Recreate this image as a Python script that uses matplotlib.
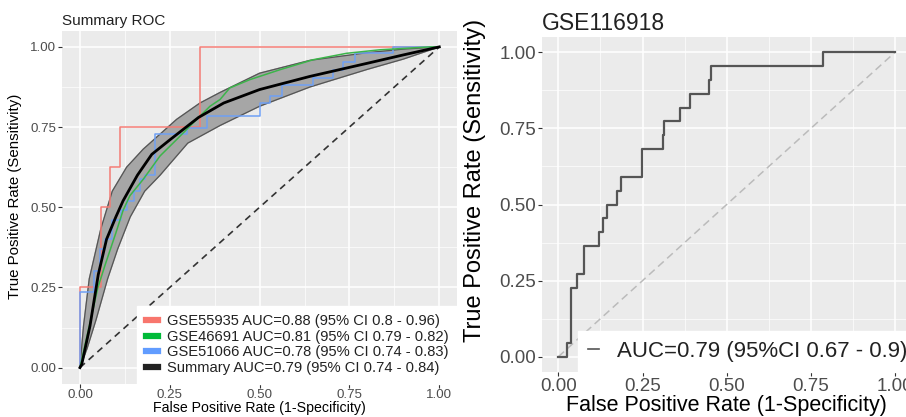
import numpy as np
import matplotlib
matplotlib.use("Agg")
import matplotlib.pyplot as plt
from matplotlib.lines import Line2D

plt.rcParams['font.family'] = ['Liberation Sans', 'DejaVu Sans']

# ---- left panel data ----
summary_fpr = [0, 0.005, 0.028, 0.051, 0.074, 0.10, 0.12, 0.16, 0.20, 0.25, 0.33, 0.40, 0.50, 0.64, 0.80, 0.90, 1.0]
summary_tpr = [0, 0.01, 0.13, 0.29, 0.40, 0.47, 0.52, 0.60, 0.665, 0.71, 0.78, 0.825, 0.867, 0.908, 0.949, 0.975, 1.0]

ci_up_fpr = [0, 0.01, 0.026, 0.058, 0.09, 0.13, 0.176, 0.269, 0.334, 0.39, 0.50, 0.64, 0.80, 0.90, 1.0]
ci_up_tpr = [0, 0.13, 0.277, 0.432, 0.55, 0.625, 0.681, 0.774, 0.825, 0.858, 0.918, 0.958, 0.982, 0.993, 1.0]
ci_lo_fpr = [0, 0.02, 0.045, 0.077, 0.105, 0.14, 0.18, 0.223, 0.30, 0.39, 0.50, 0.64, 0.80, 0.90, 1.0]
ci_lo_tpr = [0, 0.06, 0.15, 0.277, 0.37, 0.47, 0.55, 0.60, 0.70, 0.755, 0.815, 0.875, 0.93, 0.962, 1.0]

gse55935_fpr = [0, 0, 0.06, 0.083, 0.112, 0.334, 1.0]
gse55935_tpr = [0, 0.25, 0.50, 0.625, 0.75, 1.0, 1.0]

gse46691_fpr = [0, 0.01, 0.03, 0.05, 0.07, 0.085, 0.10, 0.12, 0.139, 0.176, 0.223, 0.269, 0.315,
                0.362, 0.39, 0.417, 0.473, 0.557, 0.649, 0.742, 0.835, 0.974, 1.0]
gse46691_tpr = [0, 0.05, 0.15, 0.25, 0.32, 0.37, 0.42, 0.49, 0.536, 0.587, 0.66, 0.711, 0.763,
                0.815, 0.836, 0.872, 0.898, 0.929, 0.96, 0.98, 0.991, 1.0, 1.0]

gse51066_fpr = [0, 0, 0.04, 0.055, 0.07, 0.09, 0.115, 0.13, 0.15, 0.167, 0.18, 0.209, 0.297, 0.353,
                0.50, 0.53, 0.561, 0.649, 0.705, 0.733, 0.765, 0.87, 1.0]
gse51066_tpr = [0, 0.236, 0.30, 0.37, 0.40, 0.46, 0.49, 0.52, 0.55, 0.587, 0.60, 0.727, 0.748, 0.785,
                0.825, 0.846, 0.882, 0.903, 0.929, 0.954, 0.98, 1.0, 1.0]

legend_labels = ["GSE55935 AUC=0.88 (95% CI 0.8 - 0.96)",
                 "GSE46691 AUC=0.81 (95% CI 0.79 - 0.82)",
                 "GSE51066 AUC=0.78 (95% CI 0.74 - 0.83)",
                 "Summary AUC=0.79 (95% CI 0.74 - 0.84)"]

# ---- right panel data ----
gse116918_fpr = [0, 0.027, 0.038, 0.056, 0.077, 0.122, 0.132, 0.144, 0.173, 0.186, 0.248, 0.310,
                 0.314, 0.361, 0.391, 0.448, 0.453, 0.787, 1.0]
gse116918_tpr = [0, 0.045, 0.227, 0.273, 0.364, 0.409, 0.455, 0.50, 0.545, 0.591, 0.682, 0.727,
                 0.773, 0.818, 0.864, 0.909, 0.955, 1.0, 1.0]
right_label = "AUC=0.79 (95%CI 0.67 - 0.9)"

ticks = [0, 0.25, 0.5, 0.75, 1.0]
tick_labels = ["0.00", "0.25", "0.50", "0.75", "1.00"]


def gg_axes(ax, fs, pad):
    ax.set_facecolor('#EBEBEB')
    for s in ax.spines.values():
        s.set_visible(False)
    ax.set_xlim(-0.05, 1.05)
    ax.set_ylim(-0.05, 1.05)
    ax.set_xticks(ticks)
    ax.set_yticks(ticks)
    ax.set_xticklabels(tick_labels)
    ax.set_yticklabels(tick_labels)
    ax.set_xticks([0.125, 0.375, 0.625, 0.875], minor=True)
    ax.set_yticks([0.125, 0.375, 0.625, 0.875], minor=True)
    ax.grid(which='major', color='white', lw=1.1)
    ax.grid(which='minor', color='white', lw=0.5)
    ax.set_axisbelow(True)
    ax.tick_params(which='major', length=3, color='#333333', labelcolor='#4D4D4D', labelsize=fs, pad=pad)
    ax.tick_params(which='minor', length=0)


fig = plt.figure(figsize=(9.06, 4.17), dpi=100)

# left: summary ROC
ax1 = fig.add_axes([0.0684, 0.08, 0.4363, 0.846])
gg_axes(ax1, 9.6, 1)
band_x = ci_up_fpr + ci_lo_fpr[::-1]
band_y = ci_up_tpr + ci_lo_tpr[::-1]
ax1.fill(band_x, band_y, color='#A6A6A6', zorder=2)
ax1.plot(ci_up_fpr, ci_up_tpr, color='#555555', lw=0.9, zorder=3)
ax1.plot(ci_lo_fpr, ci_lo_tpr, color='#555555', lw=0.9, zorder=3)
ax1.plot([0, 1], [0, 1], color='#333333', lw=1.2, ls=(0, (4, 3)), zorder=3)
ax1.plot(gse55935_fpr, gse55935_tpr, drawstyle='steps-post', color='#F47C75', lw=1.1, zorder=4)
ax1.plot(gse51066_fpr, gse51066_tpr, drawstyle='steps-post', color='#6FA0F5', lw=1.1, zorder=4)
ax1.plot(gse46691_fpr, gse46691_tpr, color='#3CB54A', lw=1.1, zorder=4)
ax1.plot(summary_fpr, summary_tpr, color='black', lw=2.0, zorder=5)
ax1.set_title("Summary ROC", loc='left', fontsize=11, color='#222222', pad=4)
ax1.set_xlabel("False Positive Rate (1-Specificity)", fontsize=10.2, labelpad=0)
ax1.set_ylabel("True Positive Rate (Sensitivity)", fontsize=10.8, labelpad=3)
ax1.yaxis.set_label_coords(-0.1, 0.53)
handles = [Line2D([], [], color=c, lw=4.5) for c in ['#F8766D', '#00BA38', '#619CFF', '#222222']]
leg1 = ax1.legend(handles, legend_labels, loc='lower right', fontsize=10.6, frameon=True,
                  fancybox=False, borderaxespad=0, handlelength=0.8, handletextpad=0.6,
                  labelspacing=0.1, borderpad=0.6)
leg1.get_frame().set_edgecolor('white')
leg1.get_frame().set_facecolor('white')
leg1.get_frame().set_alpha(1)
leg1.set_zorder(10)
for t in leg1.get_texts():
    t.set_color('#222222')

# right: GSE116918
ax2 = fig.add_axes([0.5977, 0.108, 0.4087, 0.803])
gg_axes(ax2, 13.5, 1)
ax2.plot([0, 1], [0, 1], color='#BBBBBB', lw=1.1, ls=(0, (5, 3)), zorder=3)
ax2.plot(gse116918_fpr, gse116918_tpr, drawstyle='steps-post', color='#555555', lw=1.6, zorder=4)
ax2.set_title("GSE116918", loc='left', fontsize=16.5, color='#222222', pad=5)
ax2.set_xlabel("False Positive Rate (1-Specificity)", fontsize=15.5, labelpad=0)
ax2.set_ylabel("True Positive Rate (Sensitivity)", fontsize=17)
ax2.yaxis.set_label_coords(-0.15, 0.573)
leg2 = ax2.legend([Line2D([], [], color='#555555', lw=1.2)], [right_label], loc='lower left',
                  bbox_to_anchor=(0.0986, 0.0), fontsize=16, frameon=True, fancybox=False,
                  borderaxespad=0, handlelength=0.5, handletextpad=0.8, borderpad=0.45)
leg2.get_frame().set_edgecolor('white')
leg2.get_frame().set_facecolor('white')
leg2.get_frame().set_alpha(1)
leg2.set_zorder(10)
for t in leg2.get_texts():
    t.set_color('#222222')

fig.savefig("out.png", dpi=100)
